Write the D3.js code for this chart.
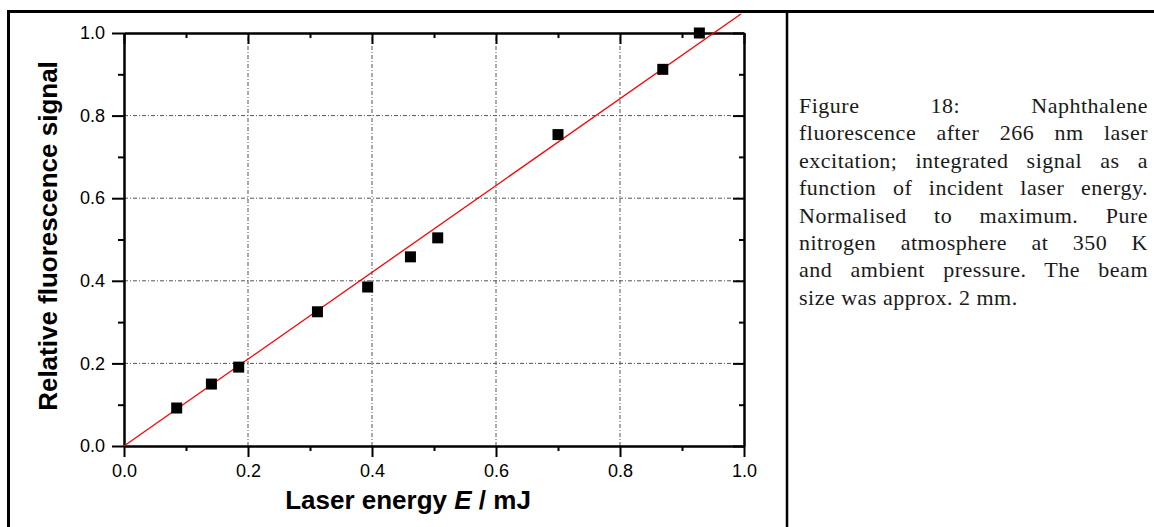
<!DOCTYPE html>
<html>
<head>
<meta charset="utf-8">
<script src="https://cdn.jsdelivr.net/npm/d3@7"></script>
<style>
  body { margin: 0; background: #fff; }
  svg { display: block; }
</style>
</head>
<body>
<div id="chart"></div>
<script>
// laser energy (mJ) and normalised fluorescence
var energy = [0.085, 0.141, 0.185, 0.312, 0.393, 0.462, 0.506, 0.700, 0.869, 0.928]
var signal = [0.092, 0.150, 0.191, 0.325, 0.385, 0.458, 0.504, 0.754, 0.912, 1.000]

// linear fit through the origin
var fitX = [0, 0.995]
var fitY = [0, 1.046]

var majorTicks = [0, 0.2, 0.4, 0.6, 0.8, 1.0]
var minorTicks = [0.1, 0.3, 0.5, 0.7, 0.9]
var gridTicks = [0.2, 0.4, 0.6, 0.8]

var captionLines = [
  "Figure 18: Naphthalene",
  "fluorescence after 266 nm laser",
  "excitation; integrated signal as a",
  "function of incident laser energy.",
  "Normalised to maximum. Pure",
  "nitrogen atmosphere at 350 K",
  "and ambient pressure. The beam",
  "size was approx. 2 mm."
]

var W = 1154, H = 527
var svg = d3.select("#chart").append("svg")
  .attr("width", W)
  .attr("height", H)

// table frame
svg.append("line").attr("x1", 7).attr("x2", W).attr("y1", 11.5).attr("y2", 11.5)
  .attr("stroke", "black").attr("stroke-width", 3)
svg.append("line").attr("x1", 8.5).attr("x2", 8.5).attr("y1", 10).attr("y2", H)
  .attr("stroke", "black").attr("stroke-width", 3)
svg.append("line").attr("x1", 787).attr("x2", 787).attr("y1", 10).attr("y2", H)
  .attr("stroke", "black").attr("stroke-width", 2.5)

var x = d3.scaleLinear().domain([0, 1]).range([124, 744])
var y = d3.scaleLinear().domain([0, 1]).range([446, 33])

var fmt = d3.format(".1f")
var tickFont = "'Liberation Sans', Arial, sans-serif"

// grid
var grid = svg.append("g")
  .attr("stroke", "#555")
  .attr("stroke-width", 1)
  .attr("stroke-dasharray", "4,2,1,2")
grid.selectAll(".gx").data(gridTicks).enter().append("line")
  .attr("x1", function(d) { return x(d) }).attr("x2", function(d) { return x(d) })
  .attr("y1", y(0)).attr("y2", y(1))
grid.selectAll(".gy").data(gridTicks).enter().append("line")
  .attr("y1", function(d) { return y(d) }).attr("y2", function(d) { return y(d) })
  .attr("x1", x(0)).attr("x2", x(1))

function styleAxis(g) {
  g.select(".domain").attr("stroke-width", 2)
  g.selectAll(".tick line").attr("stroke-width", 2)
  g.selectAll("text").style("font-family", tickFont).style("font-size", "18px").attr("fill", "black")
}

// bottom axis
svg.append("g").attr("transform", "translate(0," + y(0) + ")")
  .call(d3.axisBottom(x).tickValues(majorTicks).tickFormat(fmt).tickSize(11).tickSizeOuter(0).tickPadding(7))
  .call(styleAxis)
svg.append("g").attr("transform", "translate(0," + y(0) + ")")
  .call(d3.axisBottom(x).tickValues(minorTicks).tickFormat("").tickSize(5).tickSizeOuter(0))
  .call(styleAxis)
// top axis, ticks inside
svg.append("g").attr("transform", "translate(0," + y(1) + ")")
  .call(d3.axisTop(x).tickValues(majorTicks).tickFormat("").tickSize(-11).tickSizeOuter(0))
  .call(styleAxis)
svg.append("g").attr("transform", "translate(0," + y(1) + ")")
  .call(d3.axisTop(x).tickValues(minorTicks).tickFormat("").tickSize(-5).tickSizeOuter(0))
  .call(styleAxis)
// left axis
svg.append("g").attr("transform", "translate(" + x(0) + ",0)")
  .call(d3.axisLeft(y).tickValues(majorTicks).tickFormat(fmt).tickSize(12).tickSizeOuter(0).tickPadding(7))
  .call(styleAxis)
svg.append("g").attr("transform", "translate(" + x(0) + ",0)")
  .call(d3.axisLeft(y).tickValues(minorTicks).tickFormat("").tickSize(6).tickSizeOuter(0))
  .call(styleAxis)
// right axis, ticks inside
svg.append("g").attr("transform", "translate(" + x(1) + ",0)")
  .call(d3.axisRight(y).tickValues(majorTicks).tickFormat("").tickSize(-11).tickSizeOuter(0))
  .call(styleAxis)
svg.append("g").attr("transform", "translate(" + x(1) + ",0)")
  .call(d3.axisRight(y).tickValues(minorTicks).tickFormat("").tickSize(-5).tickSizeOuter(0))
  .call(styleAxis)

// fit line
var fit = fitX.map(function(d, i) { return [d, fitY[i]] })
svg.append("path")
  .datum(fit)
  .attr("fill", "none")
  .attr("stroke", "red")
  .attr("stroke-width", 1.3)
  .attr("d", d3.line().x(function(d) { return x(d[0]) }).y(function(d) { return y(d[1]) }))

// data squares
var pts = energy.map(function(d, i) { return { e: d, s: signal[i] } })
svg.append("g").selectAll("rect")
  .data(pts).enter()
  .append("rect")
  .attr("x", function(d) { return x(d.e) - 5.5 })
  .attr("y", function(d) { return y(d.s) - 5.5 })
  .attr("width", 11)
  .attr("height", 11)
  .attr("fill", "black")

// axis titles
var xt = svg.append("text")
  .attr("x", 408).attr("y", 509)
  .attr("text-anchor", "middle")
  .style("font-family", tickFont).style("font-weight", "bold").style("font-size", "26px")
xt.append("tspan").text("Laser energy ")
xt.append("tspan").style("font-style", "italic").text("E")
xt.append("tspan").text(" / mJ")

svg.append("text")
  .attr("transform", "translate(57,236) rotate(-90)")
  .attr("text-anchor", "middle")
  .style("font-family", tickFont).style("font-weight", "bold").style("font-size", "26px")
  .text("Relative fluorescence signal")

// caption, justified
var capLeft = 799, capRight = 1148
captionLines.forEach(function(line, i) {
  var t = svg.append("text")
    .attr("x", capLeft)
    .attr("y", 113 + i * 27.4)
    .style("font-family", "'Liberation Serif', 'Times New Roman', serif")
    .style("font-size", "22px")
    .style("letter-spacing", "0.5px")
    .attr("fill", "#1a1a1a")
    .text(line)
  if (i < captionLines.length - 1) {
    var gaps = line.split(" ").length - 1
    var extra = (capRight - capLeft - t.node().getComputedTextLength()) / gaps
    t.attr("word-spacing", extra)
  }
})
</script>
</body>
</html>
